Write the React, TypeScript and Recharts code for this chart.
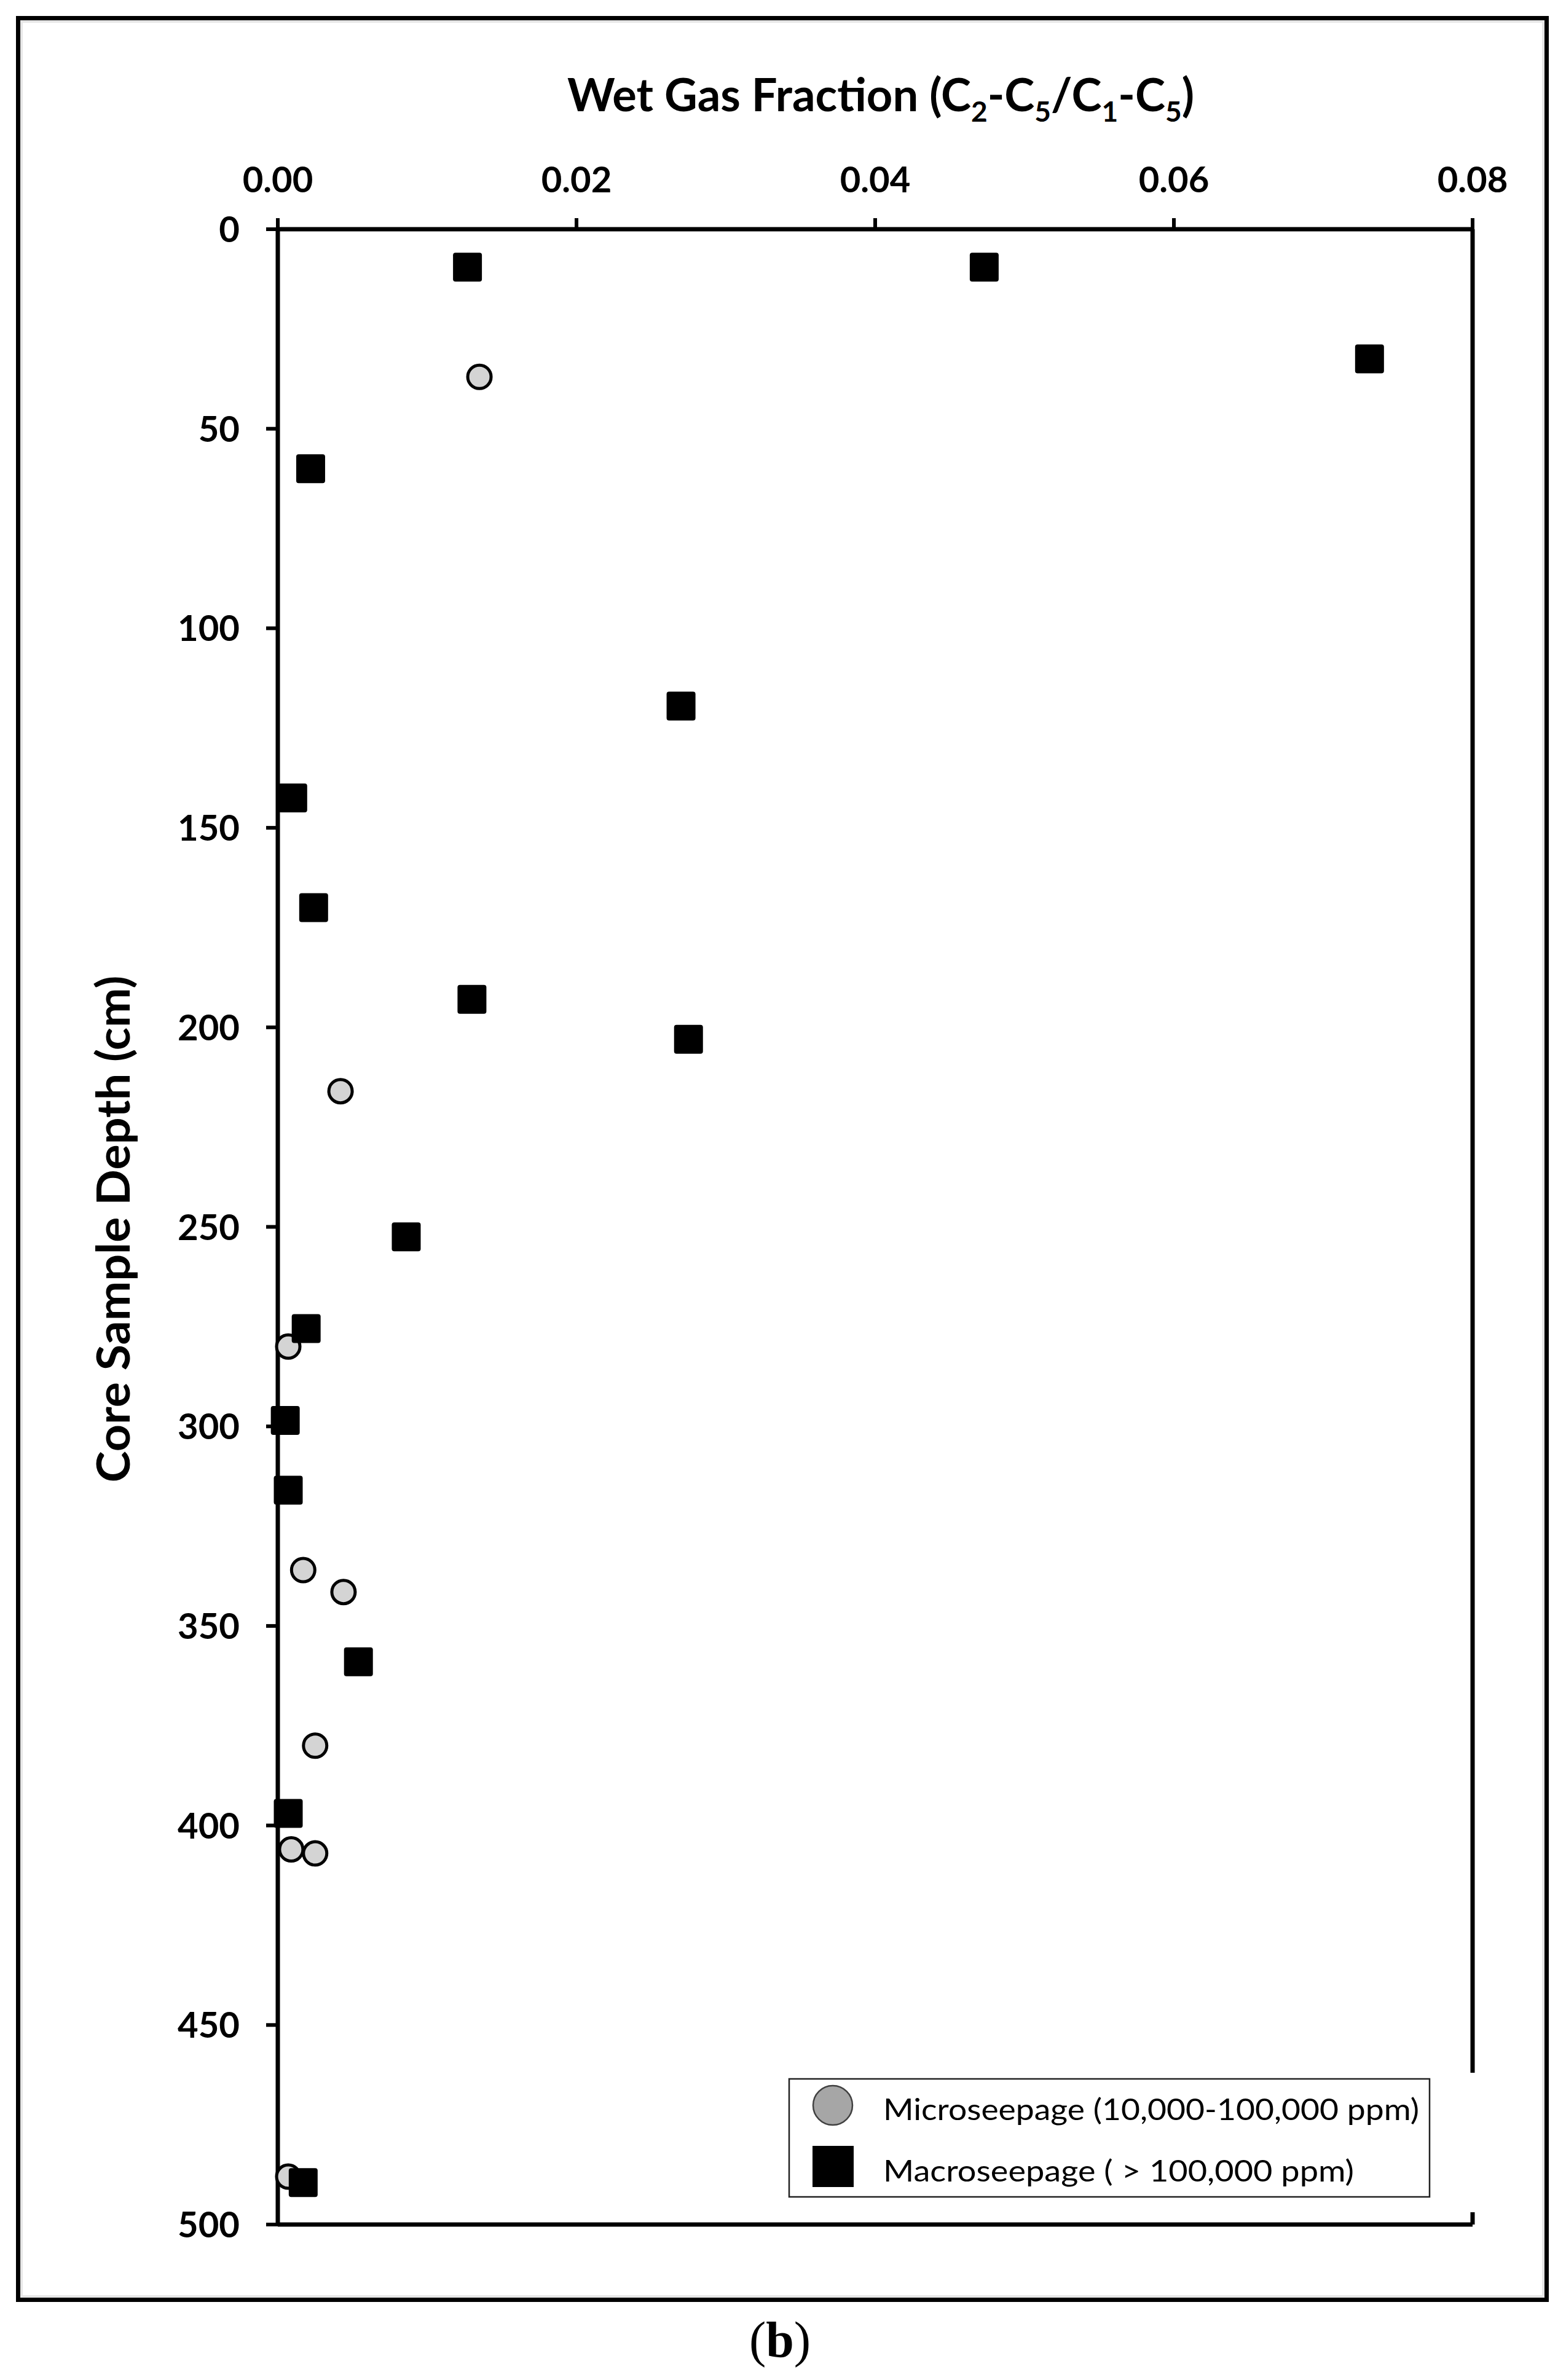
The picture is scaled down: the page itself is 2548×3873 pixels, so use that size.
import { Legend, ReferenceLine, Scatter, ScatterChart, XAxis, YAxis } from "recharts";

// wet gas fraction (x) and core depth in cm (y)
const microFraction = [0.0135, 0.0042, 0.0007, 0.0017, 0.0044, 0.0025, 0.0009, 0.0025, 0.0007];
const microDepth = [37, 216, 280, 336, 341.5, 380, 406, 407, 488];

const macroFraction = [
  0.0127, 0.0473, 0.0731, 0.0022, 0.027, 0.001, 0.0024, 0.013, 0.0275, 0.0086, 0.0019, 0.0005,
  0.0007, 0.0054, 0.0007, 0.0017,
];
const macroDepth = [9.5, 9.5, 32.5, 60, 119.5, 142.5, 170, 193, 203, 252.5, 275.5, 298.5, 316, 359, 397, 489.5];

const fractionTicks = [0, 0.02, 0.04, 0.06, 0.08];
const depthTicks = [0, 50, 100, 150, 200, 250, 300, 350, 400, 450, 500];
const seriesNames = ["Microseepage (10,000-100,000 ppm)", "Macroseepage ( > 100,000 ppm)"];

const microData = microFraction.map((x, i) => ({ x, y: microDepth[i] }));
const macroData = macroFraction.map((x, i) => ({ x, y: macroDepth[i] }));

const SANS = "Lato, 'Open Sans', sans-serif";

const XTick = ({ x, y, payload }: any) => (
  <text x={x} y={y} textAnchor="middle" fontFamily={SANS} fontWeight={700} fontSize={58} fill="#000">
    {Number(payload.value).toFixed(2)}
  </text>
);

const YTick = ({ x, y, payload }: any) => (
  <text x={x} y={y} dy={21} textAnchor="end" fontFamily={SANS} fontWeight={700} fontSize={58} fill="#000">
    {payload.value}
  </text>
);

const CircleDot = ({ cx, cy }: any) => (
  <circle cx={cx} cy={cy} r={19} fill="#d4d4d4" stroke="#000" strokeWidth={5} />
);

const SquareDot = ({ cx, cy }: any) => (
  <rect x={cx - 23.5} y={cy - 23.5} width={47} height={47} rx={4} fill="#000" />
);

const renderLegend = () => (
  <svg width={1135} height={227} style={{ display: "block" }}>
    <rect x={0} y={0} width={1135} height={227} fill="#fff" />
    <rect x={14} y={10} width={1042} height={192} fill="#fff" stroke="#222" strokeWidth={2.5} />
    <circle cx={85} cy={53} r={32} fill="#a6a6a6" stroke="#404040" strokeWidth={2.5} />
    <rect x={52} y={119} width={67} height={67} fill="#000" />
    <text x={167} y={77} fontFamily={SANS} fontSize={48} fill="#000" textLength={872} lengthAdjust="spacingAndGlyphs">
      {seriesNames[0]}
    </text>
    <text x={167} y={177} fontFamily={SANS} fontSize={48} fill="#000" textLength={766} lengthAdjust="spacingAndGlyphs">
      {seriesNames[1]}
    </text>
  </svg>
);

const SUB = 46;
const SHIFT = 17;

export default function App() {
  return (
    <div style={{ position: "absolute", left: 0, top: 0, width: 2548, height: 3873, background: "#fff" }}>
      <div
        style={{
          position: "absolute",
          left: 26,
          top: 26,
          width: 2494,
          height: 3720,
          border: "7px solid #000",
          boxSizing: "border-box",
          boxShadow: "inset 0 0 0 4px #e6e6e6",
        }}
      />
      <div style={{ position: "absolute", left: 0, top: 0 }}>
        <ScatterChart width={2548} height={3873} margin={{ top: 173, right: 152, bottom: 253, left: 152 }}>
          <XAxis
            type="number"
            dataKey="x"
            orientation="top"
            domain={[0, 0.08]}
            ticks={fractionTicks}
            height={200}
            tick={<XTick />}
            tickSize={18}
            tickMargin={42}
            axisLine={{ stroke: "#000", strokeWidth: 7 }}
            tickLine={{ stroke: "#000", strokeWidth: 6 }}
          />
          <YAxis
            type="number"
            dataKey="y"
            reversed
            domain={[0, 500]}
            ticks={depthTicks}
            width={300}
            tick={<YTick />}
            tickSize={19}
            tickMargin={43}
            axisLine={{ stroke: "#000", strokeWidth: 7 }}
            tickLine={{ stroke: "#000", strokeWidth: 6 }}
          />
          <ReferenceLine x={0.08} stroke="#000" strokeWidth={7} />
          <ReferenceLine y={500} stroke="#000" strokeWidth={7} />
          <Scatter name={seriesNames[0]} data={microData} shape={<CircleDot />} isAnimationActive={false} />
          <Scatter name={seriesNames[1]} data={macroData} shape={<SquareDot />} isAnimationActive={false} />
          <Legend
            layout="vertical"
            align="center"
            verticalAlign="middle"
            content={renderLegend}
            wrapperStyle={{ left: 1270, top: 3373, width: 1135, height: 227, margin: 0, padding: 0 }}
          />
          <text
            x={923}
            y={181}
            fontFamily={SANS}
            fontWeight={700}
            fontSize={74}
            fill="#000"
            textLength={1020}
            lengthAdjust="spacingAndGlyphs"
          >
            <tspan>Wet Gas Fraction (C</tspan>
            <tspan fontSize={SUB} dy={SHIFT}>2</tspan>
            <tspan dy={-SHIFT}>-C</tspan>
            <tspan fontSize={SUB} dy={SHIFT}>5</tspan>
            <tspan dy={-SHIFT}>/C</tspan>
            <tspan fontSize={SUB} dy={SHIFT}>1</tspan>
            <tspan dy={-SHIFT}>-C</tspan>
            <tspan fontSize={SUB} dy={SHIFT}>5</tspan>
            <tspan dy={-SHIFT}>)</tspan>
          </text>
          <text
            transform="translate(211,2000) rotate(-90)"
            textAnchor="middle"
            fontFamily={SANS}
            fontWeight={700}
            fontSize={74}
            fill="#000"
            textLength={825}
            lengthAdjust="spacingAndGlyphs"
          >
            Core Sample Depth (cm)
          </text>
          <text x={1269} y={3835} textAnchor="middle" fontFamily="'Liberation Serif', serif" fontSize={82} fill="#000">
            (<tspan fontWeight={700}>b</tspan>)
          </text>
        </ScatterChart>
      </div>
    </div>
  );
}
